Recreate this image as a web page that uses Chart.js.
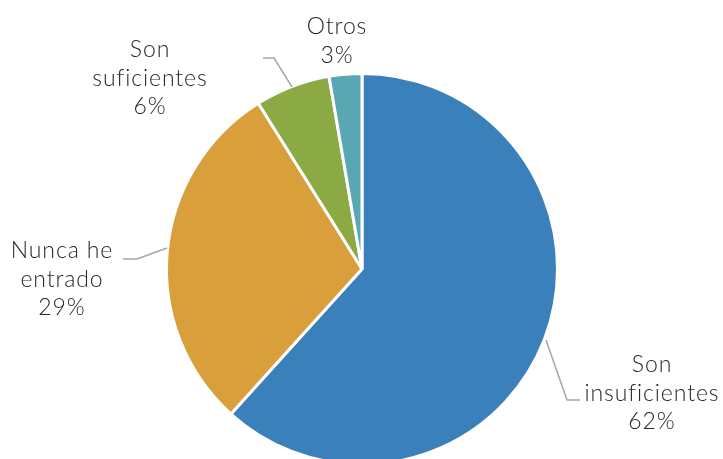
<!DOCTYPE html>
<html>
<head>
<meta charset="utf-8">
<script src="https://cdn.jsdelivr.net/npm/chart.js@4/dist/chart.umd.min.js"></script>
<style>
  html, body { margin: 0; padding: 0; background: #fff; overflow: hidden; }
  #wrap { position: relative; width: 723px; height: 538px; }
</style>
</head>
<body>
<div id="wrap"><canvas id="pieChart"></canvas></div>
<script>
const categories = ['Son insuficientes', 'Nunca he entrado', 'Son suficientes', 'Otros'];
const labelLines = [['Son', 'insuficientes'], ['Nunca he', 'entrado'], ['Son', 'suficientes'], ['Otros']];
const shares = [61.7, 29.4, 6.2, 2.7];
const colors = ['#3A80BA', '#D89F3A', '#8BAA44', '#5AA7B4'];

// label placement relative to pie centre (px): text centre x, first line y, leader points
const labelLayout = [
  { dx: 290, dy: 96, leader: [[184, 71], [205, 131], [218, 131]] },
  { dx: -300, dy: -18, leader: [[-195, -21], [-225, -10], [-239, -10]] },
  { dx: -212, dy: -219, leader: [[-70, -182], [-88, -211], [-99, -211]] },
  { dx: -25, dy: -242, leader: null }
];

const outsideLabels = {
  id: 'outsideLabels',
  afterDatasetsDraw(chart) {
    const ctx = chart.ctx;
    const meta = chart.getDatasetMeta(0);
    const total = shares.reduce((a, b) => a + b, 0);
    meta.data.forEach((arc, i) => {
      const cx = arc.x, cy = arc.y;
      const lay = labelLayout[i];
      ctx.save();
      if (lay.leader) {
        ctx.strokeStyle = '#A6A6A6';
        ctx.lineWidth = 1.5;
        ctx.beginPath();
        lay.leader.forEach((p, k) => {
          if (k === 0) ctx.moveTo(cx + p[0], cy + p[1]);
          else ctx.lineTo(cx + p[0], cy + p[1]);
        });
        ctx.stroke();
      }
      ctx.fillStyle = '#262626';
      ctx.font = '300 23px Lato';
      ctx.letterSpacing = '0.9px';
      ctx.textAlign = 'center';
      ctx.textBaseline = 'middle';
      const lines = labelLines[i].concat([Math.round(shares[i] / total * 100) + '%']);
      lines.forEach((t, k) => {
        ctx.fillText(t, cx + lay.dx, cy + lay.dy + k * 28.5);
      });
      ctx.restore();
    });
  }
};

new Chart(document.getElementById('pieChart'), {
  type: 'pie',
  data: {
    labels: categories,
    datasets: [{
      data: shares,
      backgroundColor: colors,
      borderColor: '#ffffff',
      borderWidth: 3
    }]
  },
  options: {
    responsive: true,
    maintainAspectRatio: false,
    animation: false,
    layout: { padding: { top: 72, bottom: 72, left: 165, right: 164 } },
    plugins: {
      legend: { display: false },
      tooltip: { enabled: false }
    }
  },
  plugins: [outsideLabels]
});
</script>
</body>
</html>
